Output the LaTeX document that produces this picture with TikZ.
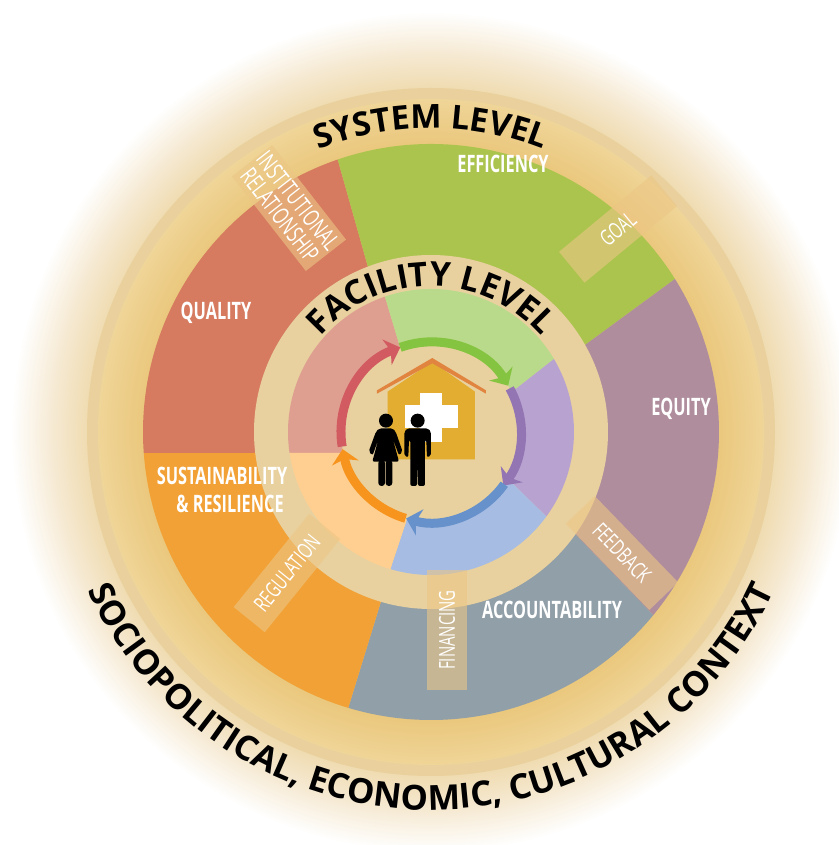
\documentclass[tikz,border=0pt]{standalone}
\usepackage{fontspec}
\usepackage{xcolor}
\usetikzlibrary{arrows.meta,decorations.text}
\setmainfont{Open Sans}
\newfontfamily\condfont[FakeStretch=0.68]{Open Sans}
\definecolor{GlowIn}{RGB}{240,220,178}
\definecolor{GlowMid}{RGB}{246,234,212}
\definecolor{RimTan}{RGB}{234,208,156}
\definecolor{BandIn}{RGB}{234,199,124}
\definecolor{BandOut}{RGB}{239,213,152}
\definecolor{RingTan}{RGB}{232,209,159}
\definecolor{TagTan}{RGB}{236,198,133}
\definecolor{QualityRed}{RGB}{214,123,95}
\definecolor{EfficiencyGreen}{RGB}{171,196,78}
\definecolor{EquityMauve}{RGB}{175,141,157}
\definecolor{AccountGrey}{RGB}{145,159,168}
\definecolor{SustainOrange}{RGB}{242,161,54}
\definecolor{SoftRed}{RGB}{223,159,144}
\definecolor{SoftGreen}{RGB}{185,218,138}
\definecolor{SoftPurple}{RGB}{184,163,208}
\definecolor{SoftBlue}{RGB}{167,188,226}
\definecolor{SoftOrange}{RGB}{255,207,145}
\definecolor{ArrowGreen}{RGB}{133,196,64}
\definecolor{ArrowPurple}{RGB}{147,117,180}
\definecolor{ArrowBlue}{RGB}{102,145,203}
\definecolor{ArrowOrange}{RGB}{247,148,30}
\definecolor{ArrowRed}{RGB}{209,91,97}
\definecolor{HouseGold}{RGB}{226,173,48}
\definecolor{RoofOrange}{RGB}{224,132,63}
\pgfdeclareradialshading{contextglow}{\pgfpointorigin}{color(0bp)=(GlowIn); color(20.5bp)=(GlowIn); color(22.6bp)=(GlowMid); color(25bp)=(white); color(50bp)=(white)}
\pgfdeclareradialshading{contextband}{\pgfpointorigin}{color(0bp)=(BandIn); color(21.5bp)=(BandIn); color(25bp)=(BandOut); color(50bp)=(BandOut)}
\newcommand{\systemfont}{\bfseries\fontsize{33}{33}\selectfont}
\newcommand{\facilityfont}{\bfseries\fontsize{33.5}{33.5}\selectfont}
\newcommand{\contextfont}{\bfseries\fontsize{34.5}{34.5}\selectfont}
\tikzset{
    metriclabel/.style={text=white, font=\condfont\bfseries\fontsize{24}{28}\selectfont, align=center, inner sep=0pt},
    taglabel/.style={fill=TagTan, fill opacity=0.6, text opacity=1, text=white, font=\condfont\fontsize{22}{23}\selectfont, align=center, inner sep=0pt, minimum width=120pt, minimum height=40pt}
}

\begin{document}
\begin{tikzpicture}[
        x=1pt, y=1pt,
        % Mui ten quanh vong trong
        flowarrow/.style={line width=9pt, -{Stealth[length=14pt,width=27pt,inset=4pt]}}
    ]
    \useasboundingbox (-431,-413) rectangle (407,432);
    \fill[white] (-431,-413) rectangle (407,432);

    % --- NEN ---
    \shade[shading=contextglow] (0,0) circle[radius=420];
    \fill[RimTan] (0,0) circle[radius=344];
    \shade[shading=contextband] (0,0) circle[radius=333];

    % --- VONG NGOAI ---
    \fill[QualityRed] (0,0) -- (-177,-21) -- (184.2:288) arc[start angle=184.2, end angle=108.9, radius=288] -- (-63,165) -- cycle;
    \fill[EfficiencyGreen] (0,0) -- (-63,165) -- (108.9:288) arc[start angle=108.9, end angle=32.1, radius=288] -- (154,87) -- cycle;
    \fill[EquityMauve] (0,0) -- (154,87) -- (32.1:288) arc[start angle=32.1, end angle=-39.5, radius=288] -- (143,-101) -- cycle;
    \fill[AccountGrey] (0,0) -- (143,-101) -- (-39.5:288) arc[start angle=-39.5, end angle=-106.7, radius=288] -- (-50.5,-171) -- cycle;
    \fill[SustainOrange] (0,0) -- (-50.5,-171) -- (253.3:288) arc[start angle=253.3, end angle=184.2, radius=288] -- (-177,-21) -- cycle;

    % --- VONG TRONG ---
    \fill[RingTan] (0,0) circle[radius=177];
    \fill[SoftRed] (0,0) -- (-91,-21) -- (188.4:143) arc[start angle=188.4, end angle=108.8, radius=143] -- (-31,85) -- cycle;
    \fill[SoftGreen] (0,0) -- (-31,85) -- (108.8:143) arc[start angle=108.8, end angle=30.7, radius=143] -- (86,44) -- cycle;
    \fill[SoftPurple] (0,0) -- (86,44) -- (30.7:143) arc[start angle=30.7, end angle=-36.2, radius=143] -- (81,-51) -- cycle;
    \fill[SoftBlue] (0,0) -- (81,-51) -- (-36.2:143) arc[start angle=-36.2, end angle=-106.5, radius=143] -- (-25,-90) -- cycle;
    \fill[SoftOrange] (0,0) -- (-25,-90) -- (253.5:143) arc[start angle=253.5, end angle=188.4, radius=143] -- (-91,-21) -- cycle;
    \fill[RingTan] (0,0) circle[radius=90];

    % Mui ten
    \draw[flowarrow, ArrowGreen] (110:90) arc[start angle=110, end angle=31, radius=90];
    \draw[flowarrow, ArrowPurple] (29:90) arc[start angle=29, end angle=-36.5, radius=90];
    \draw[flowarrow, ArrowBlue] (-35.5:90) arc[start angle=-35.5, end angle=-106, radius=90];
    \draw[flowarrow, ArrowOrange] (253.6:90) arc[start angle=253.6, end angle=191, radius=90];
    \draw[flowarrow, ArrowRed] (189.3:90) arc[start angle=189.3, end angle=110, radius=90];

    % --- NHAN ---
    \node[metriclabel] (efficiency) at (72,268) {EFFICIENCY};
    \node[metriclabel] (quality) at (-215,119) {QUALITY};
    \node[metriclabel] (equity) at (250,23) {EQUITY};
    \node[metriclabel] (sustainability) at (-209,-58) {SUSTAINABILITY\\\hspace*{16pt}\& RESILIENCE};
    \node[metriclabel] (accountability) at (121,-178) {ACCOUNTABILITY};

    \node[taglabel, rotate=-52, minimum height=51pt, font=\condfont\fontsize{24}{23}\selectfont] (institutional) at (-142,224) {INSTITUTIONAL\\RELATIONSHIP};
    \node[taglabel, rotate=39.6] (goal) at (187,203) {GOAL};
    \node[taglabel, rotate=-46] (feedback) at (191,-121) {FEEDBACK};
    \node[taglabel, rotate=90] (financing) at (16,-198) {FINANCING};
    \node[taglabel, rotate=51] (regulation) at (-144,-141) {REGULATION};

    % --- CHU CONG ---
    \path[decorate, decoration={text along path, text align=center, text={|\systemfont|SYSTEM LEVEL}}]
        (125:304) arc[start angle=125, end angle=55, radius=304];
    \path[decorate, decoration={text along path, text align=center, text={|\facilityfont|FACILITY LEVEL}}]
        (160:146) arc[start angle=160, end angle=20, radius=146];
    \path[decorate, decoration={text along path, text align=center, text={|\contextfont|SOCIOPOLITICAL, ECONOMIC, CULTURAL CONTEXT}}]
        (195:378) arc[start angle=195, end angle=345, radius=378];

    % --- NHA VA NGUOI ---
    \begin{scope}[shift={(-201,182)}, x=0.3333pt, y=-0.3333pt]
        \fill[HouseGold] (473,628) -- (473,425) -- (607,335) -- (735,425) -- (735,628) -- cycle;
        \fill[RoofOrange] (441,431) -- (441,421) -- (607,324) -- (768,421) -- (768,431) -- (607,340) -- cycle;
        \fill[white] (571,430) rectangle (636,575);
        \fill[white] (525,465) rectangle (684,533);
        % Nguoi nu
        \fill (468,512) circle[radius=21];
        \fill[rounded corners=2pt] (448,535) -- (488,535) -- (497,545) -- (518,605) -- (507,616) -- (488,565) -- (507,635) -- (427,635) -- (446,565) -- (428,616) -- (416,605) -- (438,545) -- cycle;
        \fill[rounded corners=3pt] (445,630) rectangle (465,708);
        \fill[rounded corners=3pt] (467,630) rectangle (487,708);
        % Nguoi nam
        \fill (563,512) circle[radius=21];
        \fill[rounded corners=2pt] (523,545) -- (532,535) -- (594,535) -- (603,545) -- (603,618) -- (591,622) -- (589,570) -- (585,570) -- (585,708) -- (564,708) -- (563,640) -- (561,708) -- (541,708) -- (541,570) -- (537,570) -- (535,622) -- (523,618) -- cycle;
    \end{scope}
\end{tikzpicture}
\end{document}
